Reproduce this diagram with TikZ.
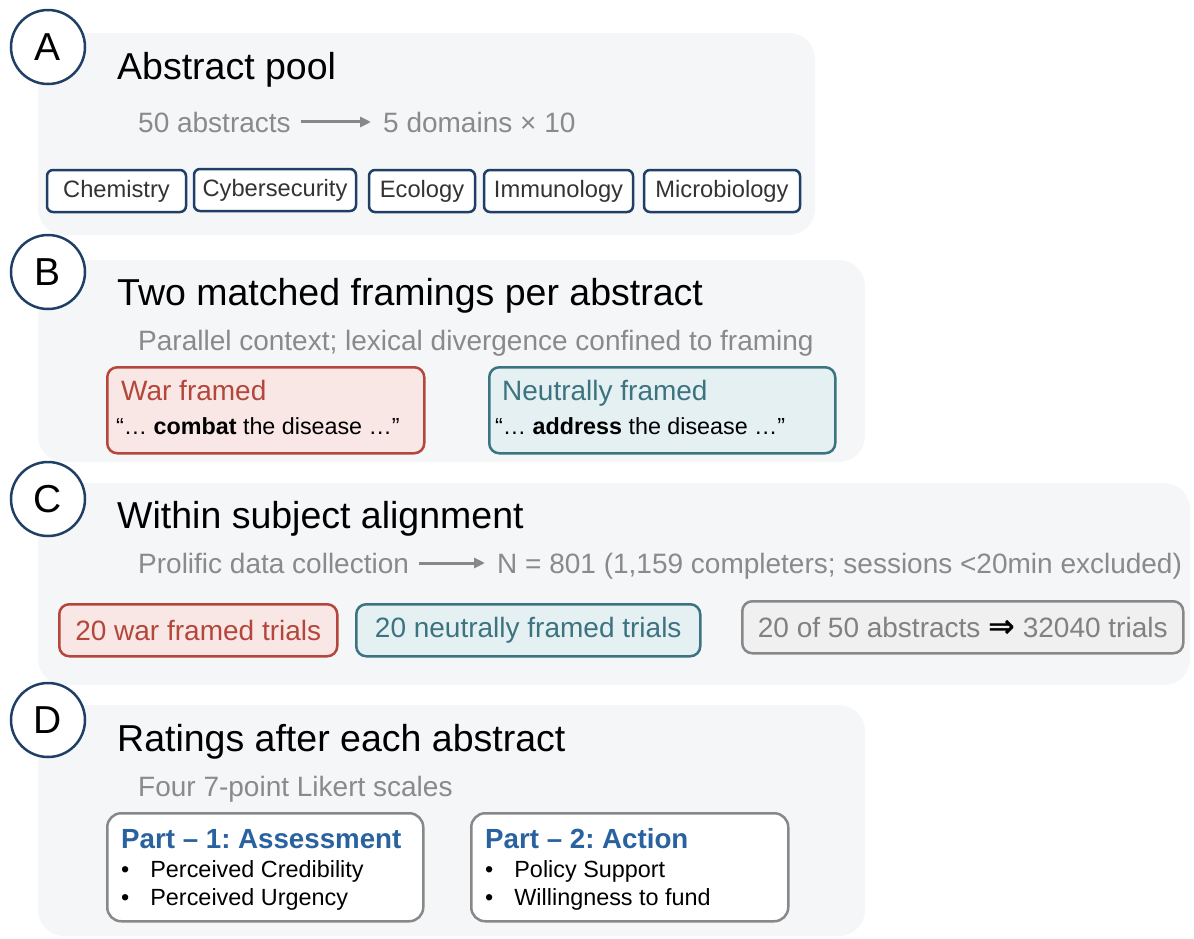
\documentclass[tikz,border=0pt]{standalone}
\usepackage{fontspec}
\setmainfont{Liberation Sans}
\newfontfamily\dejavu{DejaVu Sans}
\usetikzlibrary{arrows.meta}
\definecolor{navy}{HTML}{1F3F66}
\definecolor{panelbg}{HTML}{F5F6F8}
\definecolor{subgray}{HTML}{8A8A8A}
\definecolor{warred}{HTML}{B5463B}
\definecolor{warfill}{HTML}{F8E7E4}
\definecolor{neutteal}{HTML}{3B7480}
\definecolor{neutfill}{HTML}{E5F0F2}
\definecolor{boxgray}{HTML}{888888}
\definecolor{grayfill}{HTML}{F0F0F0}
\definecolor{partblue}{HTML}{2A62A0}
\frenchspacing
\tikzset{
  panel/.style={fill=panelbg, rounded corners=26pt},
  circ/.style={circle, draw=navy, line width=2.5pt, fill=white, minimum size=74pt, inner sep=0pt, font=\fontsize{39}{42}\selectfont},
  ttl/.style={anchor=base west, inner sep=0pt, font=\fontsize{37.5}{42}\selectfont},
  sub/.style={anchor=base west, inner sep=0pt, text=subgray, font=\fontsize{28}{32}\selectfont},
  tag/.style={draw=navy, line width=2.5pt, fill=white, rounded corners=6pt, minimum height=42pt, inner sep=0pt, text=black!80, font=\fontsize{23.7}{27}\selectfont},
  conn/.style={draw=boxgray, line width=3pt, -{Triangle[length=11pt,width=10pt]}},
  warbox/.style={draw=warred, fill=warfill, line width=2.5pt, rounded corners=10pt, anchor=north west, inner sep=0pt},
  neutbox/.style={draw=neutteal, fill=neutfill, line width=2.5pt, rounded corners=10pt, anchor=north west, inner sep=0pt},
  graybox/.style={draw=boxgray, fill=grayfill, line width=2.5pt, rounded corners=10pt, anchor=north west, inner sep=0pt},
  whitebox/.style={draw=boxgray, fill=white, line width=2.5pt, rounded corners=14pt, anchor=north west, inner sep=0pt},
  head/.style={anchor=base west, inner sep=0pt, font=\fontsize{28}{32}\selectfont},
  quote/.style={anchor=base west, inner sep=0pt, font=\fontsize{23.3}{27}\selectfont},
  bul/.style={anchor=base west, inner sep=0pt, font=\fontsize{23.4}{27}\selectfont},
  part/.style={anchor=base west, inner sep=0pt, text=partblue, font=\bfseries\fontsize{27.7}{31}\selectfont},
}
\begin{document}
\begin{tikzpicture}[x=1pt,y=-1pt]
\useasboundingbox (0,0) rectangle (1194,938);
% panels
\path[panel] (38,33) rectangle (815,235);
\path[panel] (38,260) rectangle (865,462);
\path[panel] (38,483) rectangle (1190,685);
\path[panel] (38,705) rectangle (865,936);
% circles
\node[circ] (cA) at (48,47) {A};
\node[circ] (cB) at (48,272) {B};
\node[circ] (cC) at (48,499) {C};
\node[circ] (cD) at (48,720) {D};
% Panel A
\node[ttl] (tA) at (117,79) {Abstract pool};
\node[sub] (a50) at (138,132) {50 abstracts};
\node[sub] (a5d) at (383,132) {5 domains × 10};
\draw[conn] ([xshift=10pt]a50.east) -- ([xshift=-12pt]a50.east -| a5d.west);
\node[tag, minimum width=139pt] (d1) at (116.5,191) {Chemistry};
\node[tag, minimum width=162pt] (d2) at (275,190) {Cybersecurity};
\node[tag, minimum width=106pt] (d3) at (422,191) {Ecology};
\node[tag, minimum width=149pt] (d4) at (558.5,191) {Immunology};
\node[tag, minimum width=156pt] (d5) at (722,191) {Microbiology};
% Panel B
\node[ttl] (tB) at (117,305) {Two matched framings per abstract};
\node[sub] (sB) at (138,350) {Parallel context; lexical divergence confined to framing};
\node[warbox, minimum width=317pt, minimum height=86pt] (wB) at (106,366) {};
\node[head, text=warred] (wBh) at (121,400) {War framed};
\node[quote] (wBq) at (116,434) {“… \textbf{combat} the disease …”};
\node[neutbox, minimum width=346pt, minimum height=86pt] (nB) at (488,366) {};
\node[head, text=neutteal] (nBh) at (502,400) {Neutrally framed};
\node[quote] (nBq) at (495,434) {“… \textbf{address} the disease …”};
% Panel C
\node[ttl] (tC) at (117,528) {Within subject alignment};
\node[sub] (c1) at (138,573) {Prolific data collection};
\node[sub] (c2) at (497,573) {N = 801 (1,159 completers; sessions <20min excluded)};
\draw[conn] ([xshift=10pt]c1.east) -- ([xshift=-12pt]c1.east -| c2.west);
\node[warbox, minimum width=278pt, minimum height=52pt] (wC) at (58,603) {};
\node[head, text=warred, anchor=center] (wCt) at (wC.center) {20 war framed trials};
\node[neutbox, minimum width=344pt, minimum height=52pt] (nC) at (355,603) {};
\node[head, text=neutteal, anchor=center] (nCt) at (nC.center) {20 neutrally framed trials};
\node[graybox, minimum width=441pt, minimum height=52pt] (gC) at (741,600) {};
\node[head, text=boxgray!95!black, anchor=center] (gCt) at (gC.center) {20 of 50 abstracts {\dejavu\bfseries\fontsize{32}{32}\selectfont\color{black}⇒} 32040 trials};
% Panel D
\node[ttl] (tD) at (117,751) {Ratings after each abstract};
\node[sub] (sD) at (138,796) {Four 7-point Likert scales};
\node[whitebox, minimum width=316pt, minimum height=108pt] (p1) at (106,812) {};
\node[part] (p1h) at (121,848) {Part – 1: Assessment};
\node[bul] (p1a) at (121,877) {•\hspace{21pt}Perceived Credibility};
\node[bul] (p1b) at (121,905) {•\hspace{21pt}Perceived Urgency};
\node[whitebox, minimum width=317pt, minimum height=108pt] (p2) at (470,812) {};
\node[part] (p2h) at (485,848) {Part – 2: Action};
\node[bul] (p2a) at (485,877) {•\hspace{21pt}Policy Support};
\node[bul] (p2b) at (485,905) {•\hspace{21pt}Willingness to fund};
\end{tikzpicture}
\end{document}
